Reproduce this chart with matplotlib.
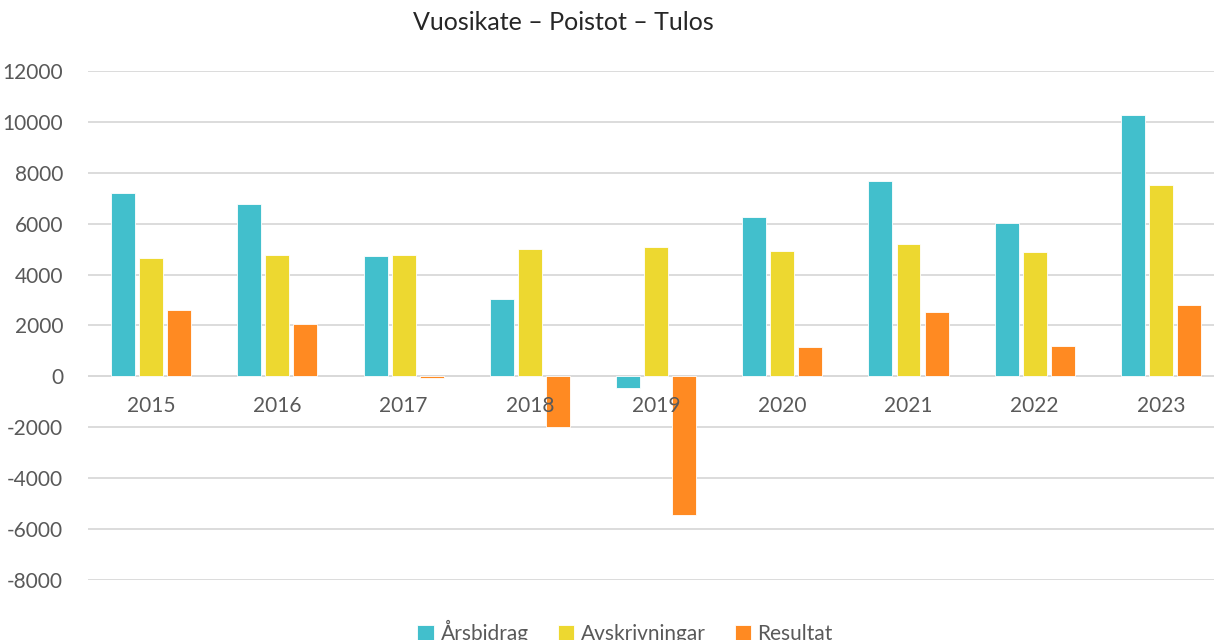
import numpy as np
import matplotlib
matplotlib.use("Agg")
import matplotlib.pyplot as plt

plt.rcParams['font.family'] = ['Lato', 'DejaVu Sans']
plt.rcParams['axes.unicode_minus'] = False

years = ["2015", "2016", "2017", "2018", "2019", "2020", "2021", "2022", "2023"]
arsbidrag = [7220, 6770, 4720, 3030, -470, 6260, 7680, 6020, 10280]
avskrivningar = [4650, 4760, 4760, 5000, 5080, 4920, 5200, 4880, 7520]
resultat = [2600, 2050, -80, -2000, -5470, 1140, 2520, 1180, 2800]

series = [("Årsbidrag", arsbidrag, "#42BFCC"),
          ("Avskrivningar", avskrivningar, "#EDD830"),
          ("Resultat", resultat, "#FF8A22")]

text_col = "#595959"

fig = plt.figure(figsize=(12.14, 6.4), dpi=100)
# plot area runs slightly past the right edge of the picture
ax = fig.add_axes([0.0725, 0.094, 0.9358, 0.795])

x = np.arange(len(years))
w = 0.19
step = 0.222
for i, (name, vals, col) in enumerate(series):
    ax.bar(x + (i - 1) * step, vals, width=w, color=col, label=name,
           edgecolor="white", linewidth=0.6, zorder=3)

ax.set_xlim(-0.5, len(years) - 0.5)
ax.set_ylim(-8000, 12000)
ax.set_yticks(range(-8000, 12001, 2000))
ax.yaxis.grid(True, color="#D9D9D9", linewidth=1.3, zorder=0)
ax.axhline(0, color="#D9D9D9", linewidth=1.3, zorder=2)
for s in ax.spines.values():
    s.set_visible(False)
ax.tick_params(axis='y', length=0, labelsize=15, labelcolor=text_col, pad=18)
ax.set_xticks([])

for xi, yr in zip(x, years):
    ax.text(xi, -1180, yr, ha="center", va="center", fontsize=15, color=text_col)

fig.text(0.464, 0.965, "Vuosikate – Poistot – Tulos", ha="center", va="center",
         fontsize=18, color="#262626")

fig.legend(loc="center", bbox_to_anchor=(0.515, 0.012), ncol=3, frameon=False,
           fontsize=15, labelcolor=text_col, handlelength=0.8, handleheight=0.8,
           handletextpad=0.3, columnspacing=1.4)

fig.savefig("out.png", dpi=100)
